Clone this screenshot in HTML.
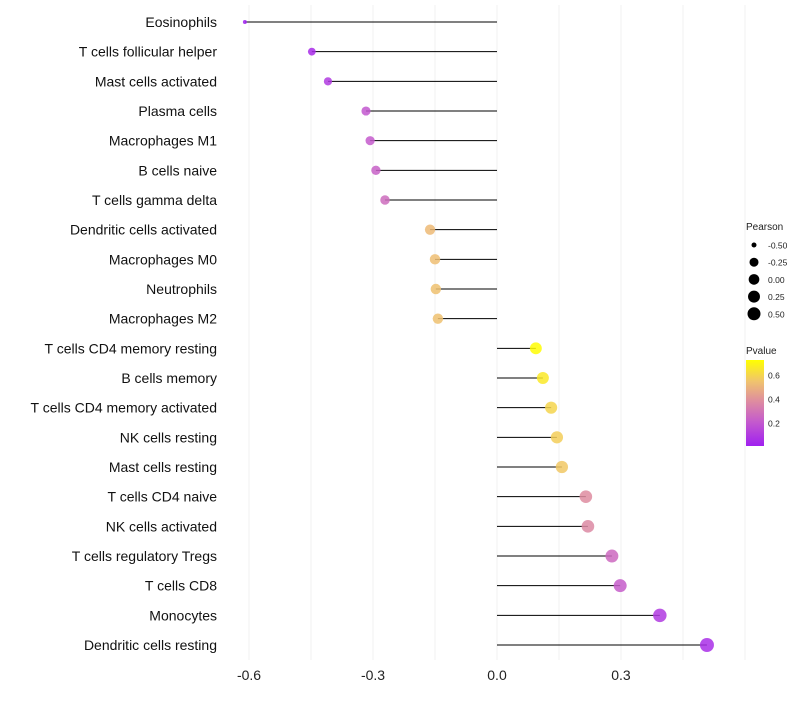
<!DOCTYPE html>
<html><head><meta charset="utf-8"><style>
body{margin:0;background:#fff;font-family:"Liberation Sans",sans-serif}
</style></head><body>
<svg id="chart" width="800" height="700" xmlns="http://www.w3.org/2000/svg"></svg>
<script>
const categories=["Eosinophils","T cells follicular helper","Mast cells activated","Plasma cells","Macrophages M1","B cells naive","T cells gamma delta","Dendritic cells activated","Macrophages M0","Neutrophils","Macrophages M2","T cells CD4 memory resting","B cells memory","T cells CD4 memory activated","NK cells resting","Mast cells resting","T cells CD4 naive","NK cells activated","T cells regulatory  Tregs ","T cells CD8","Monocytes","Dendritic cells resting"];
const pearson=[-0.61,-0.448,-0.409,-0.317,-0.307,-0.293,-0.271,-0.162,-0.150,-0.148,-0.143,0.094,0.111,0.131,0.145,0.157,0.215,0.220,0.278,0.298,0.394,0.508];
const pvalue=[0.01,0.05,0.1,0.2,0.21,0.23,0.27,0.52,0.53,0.54,0.54,0.72,0.66,0.6,0.58,0.56,0.38,0.37,0.26,0.22,0.1,0.06];
const xTicks=[-0.6,-0.3,0.0,0.3];
const xTickLabels=["-0.6","-0.3","0.0","0.3"];
const sizeLegend=[-0.5,-0.25,0,0.25,0.5];
const sizeLegendLabels=["-0.50","-0.25","0.00","0.25","0.50"];
const pTicks=[0.2,0.4,0.6];

const svg=document.getElementById('chart');
const NS="http://www.w3.org/2000/svg";
function el(t,a,p){const e=document.createElementNS(NS,t);for(const k in a)e.setAttribute(k,a[k]);(p||svg).appendChild(e);return e;}
const x=v=>497+v*413.3;
const y=i=>22+i*29.667;
const rad=v=>2+5*Math.sqrt(Math.max(0,(v+0.61)/1.12));
const legRad=v=>2.5+4*Math.sqrt(Math.max(0,v+0.5));
const pMin=0.008,pMax=0.725;
const stops=[[0,[160,32,240]],[0.28,[196,90,205]],[0.52,[222,140,160]],[0.75,[240,195,110]],[1,[255,255,0]]];
function col(p){let t=Math.max(0,Math.min(1,(p-pMin)/(pMax-pMin)));for(let i=1;i<stops.length;i++){if(t<=stops[i][0]){const a=stops[i-1],b=stops[i];const f=(t-a[0])/(b[0]-a[0]);return 'rgb('+a[1].map((c,j)=>Math.round(c+(b[1][j]-c)*f)).join(',')+')';}}return 'rgb(255,255,0)';}

for(let g=-0.6;g<=0.61;g+=0.15){const gl=el('line',{x1:x(g),x2:x(g),y1:5,y2:660,stroke:'#f2f2f2','stroke-width':1});

}
xTicks.forEach((t,i)=>{const tx=el('text',{x:x(t),y:680,'text-anchor':'middle','font-size':14,fill:'#222'});tx.textContent=xTickLabels[i];

});
categories.forEach((c,i)=>{
const lb=el('text',{x:217,y:y(i)+5,'text-anchor':'end','font-size':14,fill:'#111'});lb.textContent=c;


const ln=el('line',{x1:x(0),x2:x(pearson[i]),y1:y(i),y2:y(i),stroke:'#000','stroke-width':1});


const pt=el('circle',{cx:x(pearson[i]),cy:y(i),r:rad(pearson[i]),fill:col(pvalue[i]),'fill-opacity':0.85});


});
const t1=el('text',{x:746,y:230,'font-size':10,fill:'#222'});t1.textContent='Pearson';


sizeLegend.forEach((v,i)=>{const cy=245+i*17.2;
const c=el('circle',{cx:754,cy:cy,r:legRad(v),fill:'#000'});


const t=el('text',{x:768,y:cy+3.5,'font-size':8.5,fill:'#222'});t.textContent=sizeLegendLabels[i];

});
const t2=el('text',{x:746,y:354,'font-size':10,fill:'#222'});t2.textContent='Pvalue';


const defs=el('defs',{});const lg=el('linearGradient',{id:'pg',x1:0,y1:1,x2:0,y2:0},defs);
stops.forEach(s=>el('stop',{offset:s[0],'stop-color':'rgb('+s[1].join(',')+')'},lg));
const bar=el('rect',{x:746,y:360,width:18,height:86,fill:'url(#pg)'});


const py=p=>446-(p-pMin)/(pMax-pMin)*86;
pTicks.forEach(p=>{const t=el('text',{x:768,y:py(p)+3.5,'font-size':8.5,fill:'#222'});t.textContent=p.toFixed(1);

});
</script>
</body></html>
